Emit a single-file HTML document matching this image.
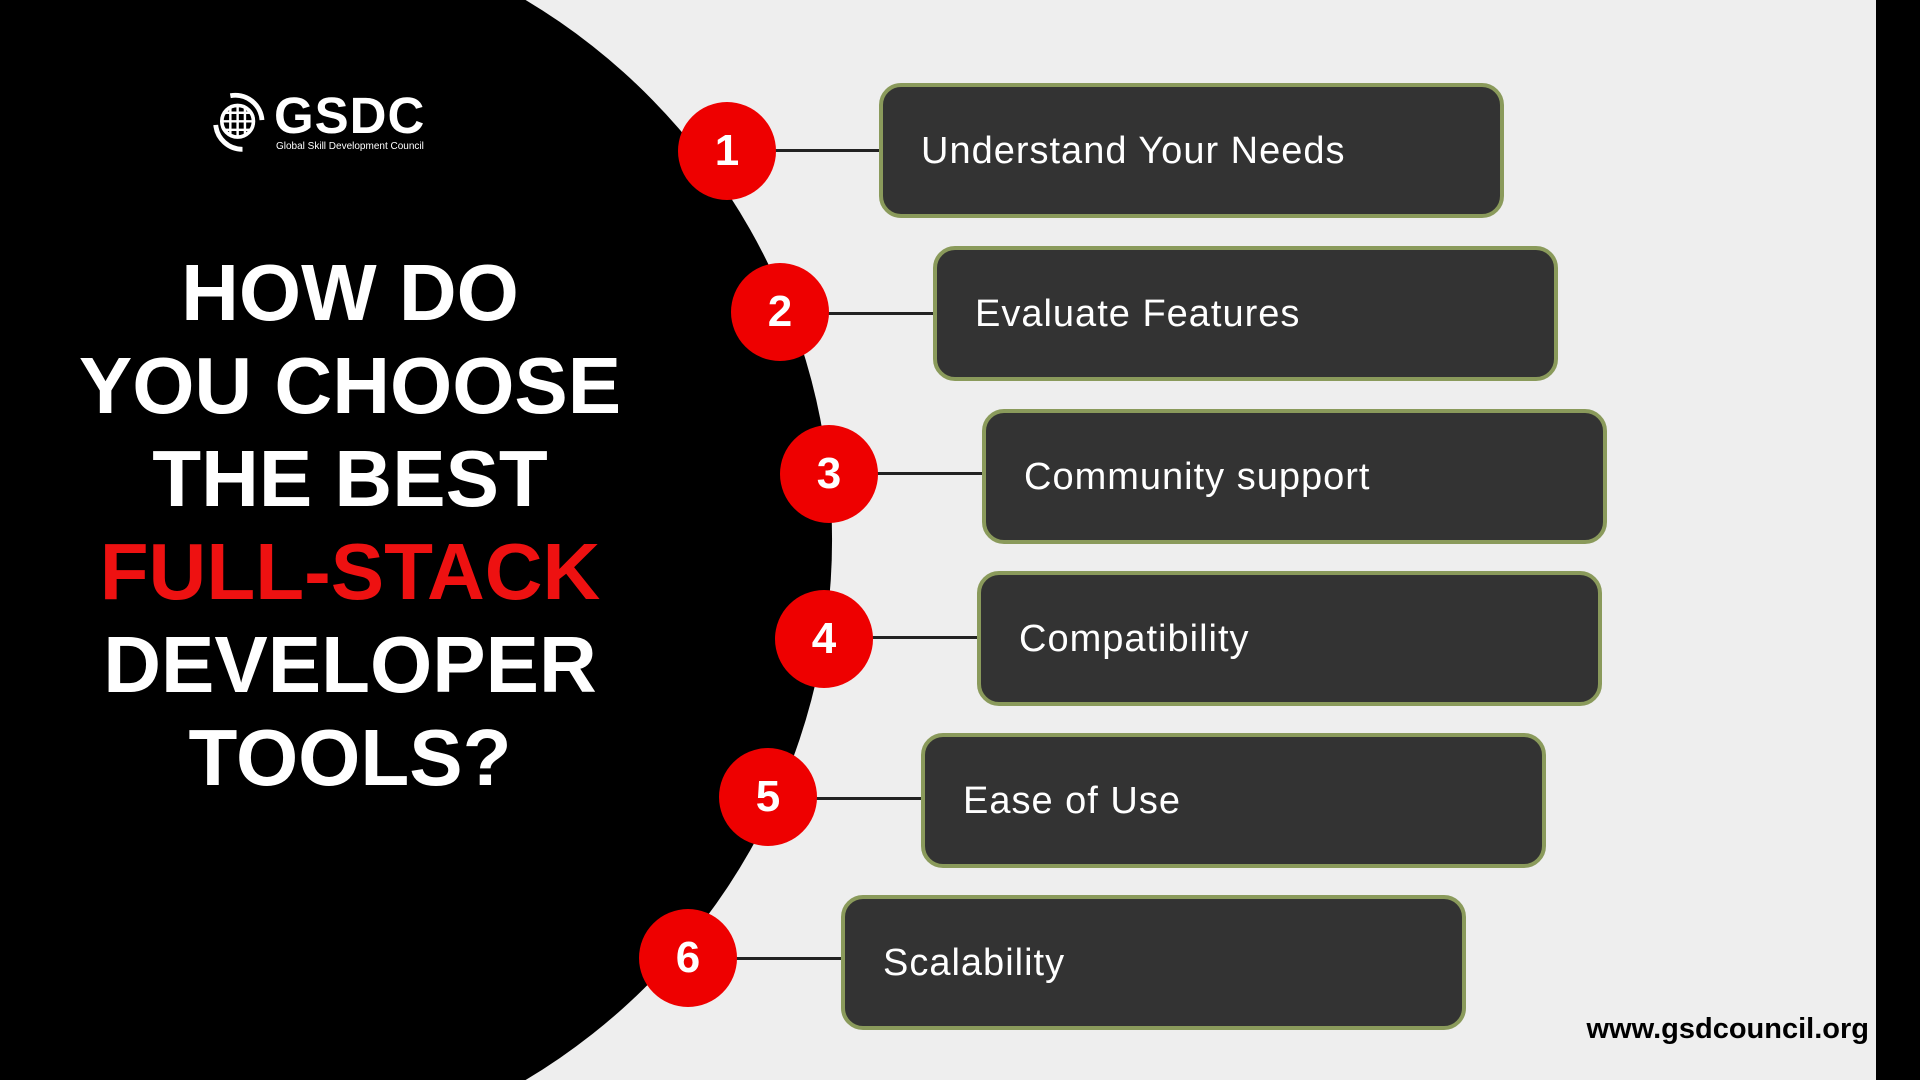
<!DOCTYPE html>
<html><head><meta charset="utf-8"><style>
html,body{margin:0;padding:0;width:1920px;height:1080px;overflow:hidden;background:#eeeeee;position:relative;font-family:"Liberation Sans",sans-serif}
.t{position:absolute;left:44px;width:612px;text-align:center;color:#fff;font-weight:bold;font-size:80px;line-height:93px;top:246px}
.box{position:absolute;width:617px;height:127px;background:#333;border:4px solid #8a9a5b;border-radius:22px}
.box span{position:absolute;left:38px;top:42px;color:#fff;font-size:38px;line-height:44px;letter-spacing:1px}
.c{position:absolute;width:98px;height:98px;border-radius:50%;background:#ee0000;color:#fff;font-weight:bold;font-size:44px;line-height:98px;text-align:center}
.ln{position:absolute;height:3px;background:#222}
</style></head><body>
<svg style="position:absolute;left:0;top:0" width="1920" height="1080"><path d="M0 0H525.6A629 629 0 0 1 525.6 1080H0Z" fill="#000"/><rect x="1876" y="0" width="44" height="1080" fill="#000"/></svg>
<svg style="position:absolute;left:206px;top:88px" width="73" height="69" viewBox="0 0 60 56"><circle cx="26" cy="27" r="13" fill="none" stroke="#fff" stroke-width="3"/><path d="M13 27h26M26 14v26M16 20h20M16 34h20M20 15v24M32 15v24" stroke="#fff" stroke-width="2"/><path d="M20 6a22 22 0 0 1 26 20" fill="none" stroke="#fff" stroke-width="4"/><path d="M8 30a22 22 0 0 0 22 20" fill="none" stroke="#fff" stroke-width="4"/></svg>
<div style="position:absolute;left:274px;top:86px;color:#fff;font-weight:bold;font-size:51px;line-height:59px;letter-spacing:1px">GSDC</div>
<div style="position:absolute;left:276px;top:141px;color:#fff;font-size:10px;line-height:12px">Global Skill Development Council</div>
<div class="t">HOW DO<br>YOU CHOOSE<br>THE BEST<br><span style="color:#ee1111">FULL-STACK</span><br>DEVELOPER<br>TOOLS?</div>

<div class="ln" style="left:771px;top:149px;width:110px"></div>
<div class="ln" style="left:824px;top:312px;width:113px"></div>
<div class="ln" style="left:873px;top:472px;width:113px"></div>
<div class="ln" style="left:868px;top:636px;width:113px"></div>
<div class="ln" style="left:812px;top:797px;width:113px"></div>
<div class="ln" style="left:732px;top:957px;width:113px"></div>

<div class="box" style="left:879px;top:83px"><span>Understand Your Needs</span></div>
<div class="box" style="left:933px;top:246px"><span>Evaluate Features</span></div>
<div class="box" style="left:982px;top:409px"><span>Community support</span></div>
<div class="box" style="left:977px;top:571px"><span>Compatibility</span></div>
<div class="box" style="left:921px;top:733px"><span>Ease of Use</span></div>
<div class="box" style="left:841px;top:895px"><span>Scalability</span></div>

<div class="c" style="left:678px;top:102px">1</div>
<div class="c" style="left:731px;top:263px">2</div>
<div class="c" style="left:780px;top:425px">3</div>
<div class="c" style="left:775px;top:590px">4</div>
<div class="c" style="left:719px;top:748px">5</div>
<div class="c" style="left:639px;top:909px">6</div>

<div style="position:absolute;right:51px;top:1011px;font-weight:bold;font-size:29px;line-height:37px;color:#000">www.gsdcouncil.org</div>
</body></html>
